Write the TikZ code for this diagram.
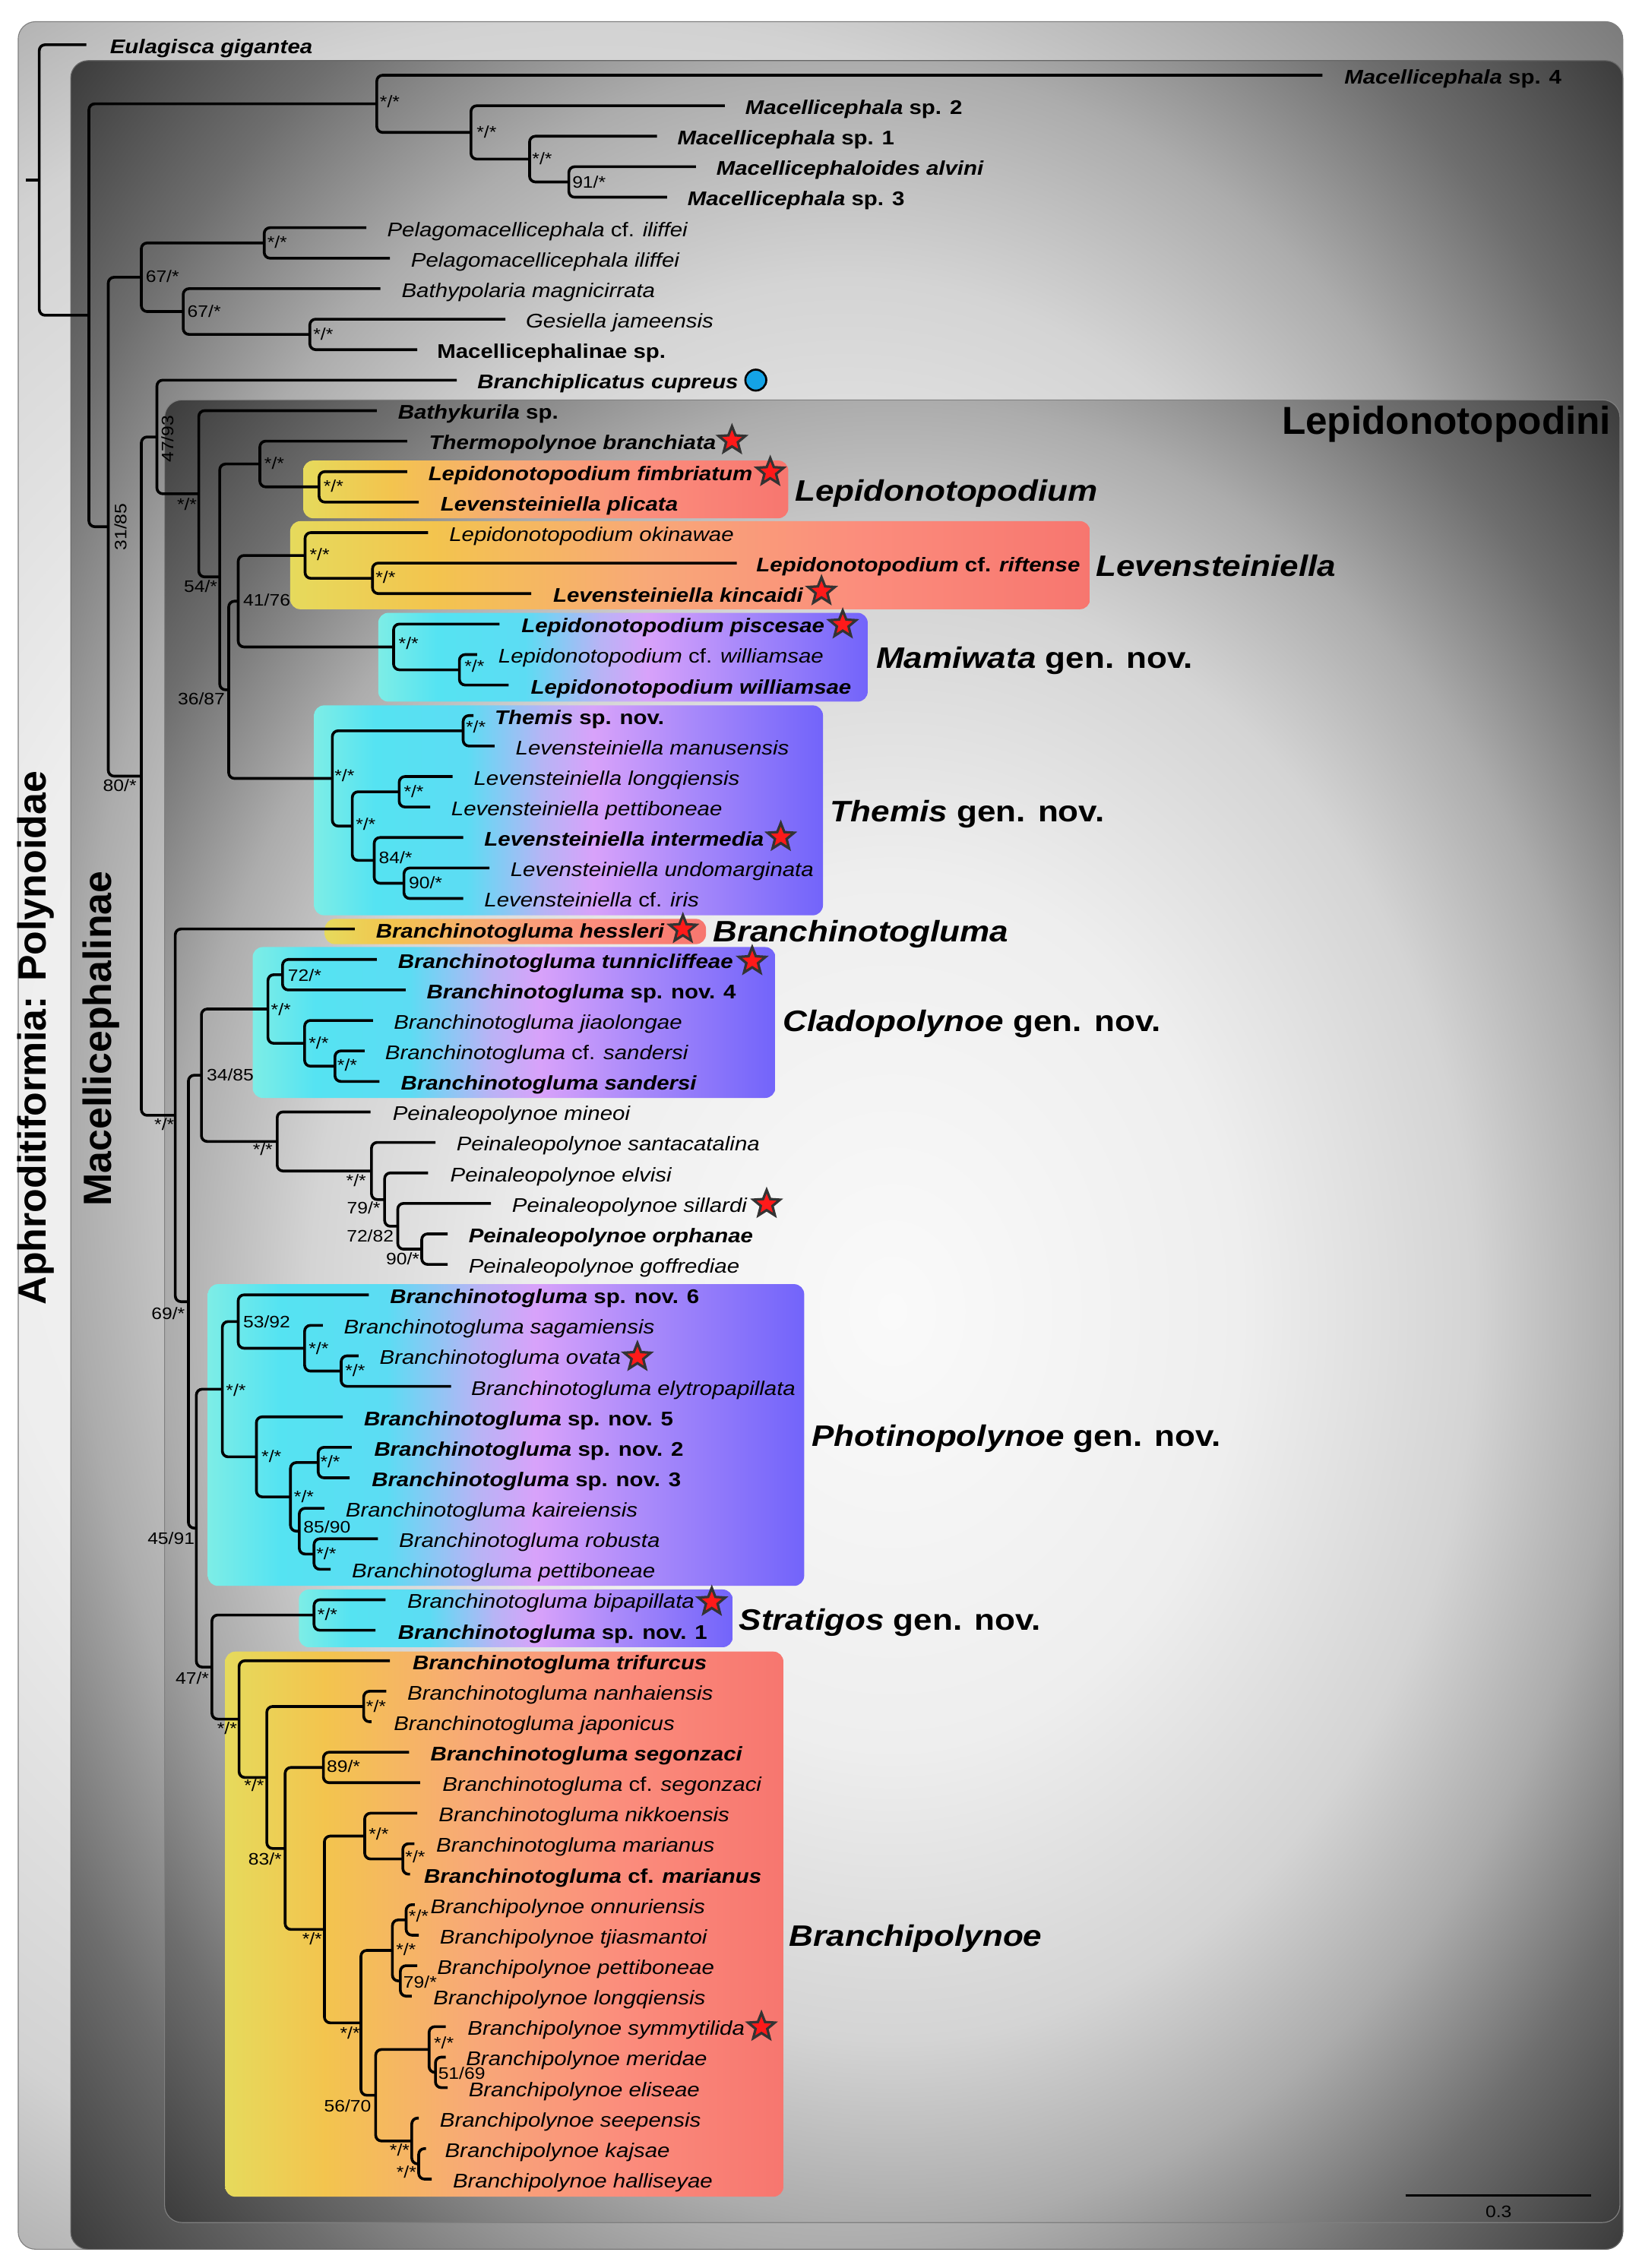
\documentclass[tikz,border=0pt]{standalone}
\usepackage{fontspec}
\setmainfont{Liberation Sans}
\newfontfamily\taxf[FakeStretch=1.13]{Liberation Sans}
\newfontfamily\plainf{Liberation Sans}
\usetikzlibrary{calc,shapes.geometric}
\definecolor{wA}{HTML}{E6DA5C}
\definecolor{wB}{HTML}{F3C44E}
\definecolor{wC}{HTML}{F8A878}
\definecolor{wD}{HTML}{FB8C7C}
\definecolor{wE}{HTML}{F7766F}
\definecolor{cA}{HTML}{7DEDE6}
\definecolor{cB}{HTML}{55E3F2}
\definecolor{cC}{HTML}{5CDCF3}
\definecolor{cD}{HTML}{B7B4F5}
\definecolor{cE}{HTML}{D8A2FA}
\definecolor{cF}{HTML}{A688FA}
\definecolor{cG}{HTML}{7264FA}
\definecolor{gA}{HTML}{FAFAFA}
\definecolor{gB}{HTML}{EEEEEE}
\definecolor{gC}{HTML}{D4D4D4}
\definecolor{gD}{HTML}{ACACAC}
\definecolor{gE}{HTML}{6E6E6E}
\definecolor{gF}{HTML}{3A3A3A}
\definecolor{hA}{HTML}{F6F6F6}
\definecolor{hB}{HTML}{EEEEEE}
\definecolor{hC}{HTML}{D2D2D2}
\definecolor{hD}{HTML}{A8A8A8}
\definecolor{hE}{HTML}{7A7A7A}
\definecolor{starred}{HTML}{FF1A1A}
\definecolor{bluedot}{HTML}{14A3E6}
\pgfdeclarehorizontalshading{warmsh}{100bp}{color(0bp)=(wA); color(25bp)=(wA); color(34bp)=(wB); color(47.5bp)=(wC); color(61bp)=(wD); color(75bp)=(wE); color(100bp)=(wE)}
\pgfdeclarehorizontalshading{coolsh}{100bp}{color(0bp)=(cA); color(25bp)=(cA); color(31bp)=(cB); color(40bp)=(cC); color(47.5bp)=(cD); color(52.5bp)=(cE); color(62.5bp)=(cF); color(75bp)=(cG); color(100bp)=(cG)}
\pgfdeclareradialshading{vignB}{\pgfpoint{0bp}{0bp}}{color(0bp)=(gA); color(12bp)=(gB); color(20bp)=(gC); color(25bp)=(gD); color(30bp)=(gE); color(35.5bp)=(gF); color(50bp)=(gF)}
\pgfdeclareradialshading{vignA}{\pgfpoint{0bp}{0bp}}{color(0bp)=(hA); color(15bp)=(hB); color(25bp)=(hC); color(30bp)=(hD); color(35.5bp)=(hE); color(50bp)=(hE)}
\newcommand\mytip[2]{\coordinate (t#1) at (#2,{31+21.12*#1});}
\newcommand\mylab[3]{\node[tl] (L#1) at (#2,{37+21.12*#1}) {#3};}
\newcommand\mynode[4]{\coordinate (#1m) at ($(#3)!0.5!(#4)$);\coordinate (#1) at (#2,0 |- #1m);\draw[branch] (#3) -| (#1) |- (#4);}
\begin{document}
\begin{tikzpicture}[x=1pt,y=-1pt,
  branch/.style={line width=1.9pt, rounded corners=4pt},
  tl/.style={anchor=base west, inner sep=0pt, font=\taxf\fontsize{13.7}{16}\selectfont\itshape},
  sup/.style={inner sep=0pt, font=\taxf\fontsize{11.5}{13}\selectfont},
  cladel/.style={anchor=base west, inner sep=0pt, font=\taxf\fontsize{20.5}{24}\selectfont\bfseries\itshape},
  redstar/.style={star, star points=5, star point ratio=2.3, minimum size=19.5pt, inner sep=0pt, fill=starred, draw=black!80, line width=1.7pt},
  warmbox/.style={shading=warmsh, rounded corners=7pt},
  coolbox/.style={shading=coolsh, rounded corners=7pt}]
\useasboundingbox (0,0) rectangle (1134.7,1571);
% ---- nested grey boxes
\begin{scope}
\clip[rounded corners=12pt] (12.6,15) rectangle (1124,1558);
\shade[shading=vignA] (-300,15) rectangle (1124,1558);
\end{scope}
\draw[rounded corners=12pt, draw=black!50, line width=0.6pt] (12.6,15) rectangle (1124,1558);
\shadedraw[shading=vignB, rounded corners=12pt, draw=black!60, line width=0.6pt] (49,42) rectangle (1124,1558);
\shadedraw[shading=vignB, rounded corners=12pt, draw=black!50, line width=0.6pt] (114,277) rectangle (1122,1539.5);
% ---- coloured clade boxes
\shade[warmbox] (210,319) rectangle (546,359);
\shade[warmbox] (201,361) rectangle (755,422);
\shade[coolbox] (262,424.5) rectangle (601,486);
\shade[coolbox] (217.5,488.6) rectangle (570,634);
\shade[warmbox] (225,636.5) rectangle (489,654);
\shade[coolbox] (175,656) rectangle (537,760.5);
\shade[coolbox] (144,889.5) rectangle (557,1098.5);
\shade[coolbox] (207,1101) rectangle (507.5,1141);
\shade[warmbox] (156,1144) rectangle (542.6,1521.6);
% ---- tips
\mytip{0}{59.8}\mytip{1}{916}\mytip{2}{502}\mytip{3}{455}\mytip{4}{482}\mytip{5}{462}
\mytip{6}{253.7}\mytip{7}{270}\mytip{8}{263.5}\mytip{9}{350}\mytip{10}{289}\mytip{11}{316.4}
\mytip{12}{261}\mytip{13}{282}\mytip{14}{282}\mytip{15}{290}\mytip{16}{296.5}\mytip{17}{510.3}
\mytip{18}{368}\mytip{19}{346}\mytip{20}{330.5}\mytip{21}{352.3}\mytip{22}{328}\mytip{23}{342.5}
\mytip{24}{313.5}\mytip{25}{298}\mytip{26}{320.8}\mytip{27}{339}\mytip{28}{320.8}\mytip{29}{245.7}
\mytip{30}{261}\mytip{31}{281}\mytip{32}{258.4}\mytip{33}{252.6}\mytip{34}{262.8}\mytip{35}{256.6}
\mytip{36}{301.6}\mytip{37}{296.5}\mytip{38}{340}\mytip{39}{310}\mytip{40}{310}\mytip{41}{255.5}
\mytip{42}{223.6}\mytip{43}{248.3}\mytip{44}{312.4}\mytip{45}{237.4}\mytip{46}{243.6}\mytip{47}{242.1}
\mytip{48}{224.7}\mytip{49}{261.7}\mytip{50}{229}\mytip{51}{267}\mytip{52}{260}\mytip{53}{270}
\mytip{54}{267.5}\mytip{55}{257.3}\mytip{56}{283.4}\mytip{57}{291}\mytip{58}{289}\mytip{59}{287}
\mytip{60}{284}\mytip{61}{287.3}\mytip{62}{290}\mytip{63}{289}\mytip{64}{285.2}\mytip{65}{308.8}
\mytip{66}{308.8}\mytip{67}{310}\mytip{68}{290}\mytip{69}{295}\mytip{70}{299}
% ---- internal nodes and branches
\mynode{m4}{394}{t4}{t5}
\mynode{m3}{366.8}{t3}{m4}
\mynode{m2}{326.2}{t2}{m3}
\mynode{m1}{261}{t1}{m2}
\mynode{p1}{183}{t6}{t7}
\mynode{p3}{214.6}{t9}{t10}
\mynode{p2}{126.9}{t8}{p3}
\mynode{p0}{97.9}{p1}{p2}
\mynode{lfim}{221}{t14}{t15}
\mynode{lthermo}{180}{t13}{lfim}
\mynode{lrif}{258}{t17}{t18}
\mynode{loki}{211.3}{t16}{lrif}
\mynode{lwil}{318.2}{t20}{t21}
\mynode{lmam}{272.6}{t19}{lwil}
\mynode{lq}{165}{loki}{lmam}
\mynode{lthemA}{320.8}{t22}{t23}
\mynode{llongq}{276.5}{t24}{t25}
\mynode{lninety}{279.8}{t27}{t28}
\mynode{leighty}{259.2}{t26}{lninety}
\mynode{lthemB}{244}{llongq}{leighty}
\mynode{lthem}{230.2}{lthemA}{lthemB}
\mynode{lr}{158.4}{lq}{lthem}
\mynode{lf}{152.2}{lthermo}{lr}
\mynode{lbk}{137.7}{t12}{lf}
\mynode{nfs}{108.7}{t11}{lbk}
\mynode{cs}{195.7}{t30}{t31}
\mynode{csa}{232}{t33}{t34}
\mynode{cj}{211}{t32}{csa}
\mynode{cr}{185.6}{cs}{cj}
\mynode{pea}{292.1}{t39}{t40}
\mynode{peb}{275.5}{t38}{pea}
\mynode{pec}{266.4}{t37}{peb}
\mynode{ped}{257.3}{t36}{pec}
\mynode{per}{192}{t35}{ped}
\mynode{ntf}{139.5}{cr}{per}
\mynode{pha}{236.3}{t43}{t44}
\mynode{phb}{211}{t42}{pha}
\mynode{phc}{165}{t41}{phb}
\mynode{phd}{220.4}{t46}{t47}
\mynode{phe}{217.5}{t49}{t50}
\mynode{phf}{207.3}{t48}{phe}
\mynode{phg}{201.2}{phd}{phf}
\mynode{phh}{177.6}{t45}{phg}
\mynode{phr}{154}{phc}{phh}
\mynode{st}{217.5}{t51}{t52}
\mynode{ba}{251.9}{t54}{t55}
\mynode{bb}{224}{t56}{t57}
\mynode{bc}{279}{t59}{t60}
\mynode{bd}{252.6}{t58}{bc}
\mynode{be}{281.3}{t61}{t62}
\mynode{bf}{277.3}{t63}{t64}
\mynode{bg}{271.8}{be}{bf}
\mynode{bh}{301.6}{t66}{t67}
\mynode{bi}{297.2}{t65}{bh}
\mynode{bj}{290}{t69}{t70}
\mynode{bk}{285.2}{t68}{bj}
\mynode{bl}{260.2}{bi}{bk}
\mynode{bm}{250}{bg}{bl}
\mynode{bn}{224.7}{bd}{bm}
\mynode{bo}{197.5}{bb}{bn}
\mynode{bp}{184.8}{ba}{bo}
\mynode{br}{165.6}{t53}{bp}
\mynode{nfsv}{146.8}{st}{br}
\mynode{nff}{136}{phr}{nfsv}
\mynode{nsn}{130.5}{ntf}{nff}
\mynode{nos}{121.4}{t29}{nsn}
\mynode{nei}{97.9}{nfs}{nos}
\mynode{nto}{75}{p0}{nei}
\mynode{nmac}{61.6}{m1}{nto}
\mynode{root}{27.2}{t0}{nmac}
\coordinate (rootbase) at (18,0 |- root);
\draw[branch] (rootbase) -- (root);
% ---- tip labels
\mylab{0}{76}{\bfseries Eulagisca gigantea}
\mylab{1}{931}{\bfseries Macellicephala \textup{sp. 4}}
\mylab{2}{516}{\bfseries Macellicephala \textup{sp. 2}}
\mylab{3}{469}{\bfseries Macellicephala \textup{sp. 1}}
\mylab{4}{496}{\bfseries Macellicephaloides alvini}
\mylab{5}{476}{\bfseries Macellicephala \textup{sp. 3}}
\mylab{6}{268}{Pelagomacellicephala \textup{cf.} iliffei}
\mylab{7}{284.5}{Pelagomacellicephala iliffei}
\mylab{8}{278}{Bathypolaria magnicirrata}
\mylab{9}{364}{Gesiella jameensis}
\mylab{10}{302.6}{\bfseries\upshape Macellicephalinae sp.}
\mylab{11}{330.5}{\bfseries Branchiplicatus cupreus}
\mylab{12}{275.5}{\bfseries Bathykurila \textup{sp.}}
\mylab{13}{297}{\bfseries Thermopolynoe branchiata}
\mylab{14}{296.5}{\bfseries Lepidonotopodium fimbriatum}
\mylab{15}{305}{\bfseries Levensteiniella plicata}
\mylab{16}{311}{Lepidonotopodium okinawae}
\mylab{17}{523.7}{\bfseries Lepidonotopodium \textup{cf.} riftense}
\mylab{18}{383}{\bfseries Levensteiniella kincaidi}
\mylab{19}{361}{\bfseries Lepidonotopodium piscesae}
\mylab{20}{345}{Lepidonotopodium \textup{cf.} williamsae}
\mylab{21}{367.5}{\bfseries Lepidonotopodium williamsae}
\mylab{22}{342.5}{\bfseries Themis \textup{sp. nov.}}
\mylab{23}{357}{Levensteiniella manusensis}
\mylab{24}{328}{Levensteiniella longqiensis}
\mylab{25}{312.4}{Levensteiniella pettiboneae}
\mylab{26}{335.3}{\bfseries Levensteiniella intermedia}
\mylab{27}{353.4}{Levensteiniella undomarginata}
\mylab{28}{335.3}{Levensteiniella \textup{cf.} iris}
\mylab{29}{260.2}{\bfseries Branchinotogluma hessleri}
\mylab{30}{275.5}{\bfseries Branchinotogluma tunnicliffeae}
\mylab{31}{295.4}{\bfseries Branchinotogluma \textup{sp. nov. 4}}
\mylab{32}{272.6}{Branchinotogluma jiaolongae}
\mylab{33}{266.6}{Branchinotogluma \textup{cf.} sandersi}
\mylab{34}{277.5}{\bfseries Branchinotogluma sandersi}
\mylab{35}{271.8}{Peinaleopolynoe mineoi}
\mylab{36}{316}{Peinaleopolynoe santacatalina}
\mylab{37}{311.7}{Peinaleopolynoe elvisi}
\mylab{38}{354.5}{Peinaleopolynoe sillardi}
\mylab{39}{324.4}{\bfseries Peinaleopolynoe orphanae}
\mylab{40}{324.4}{Peinaleopolynoe goffrediae}
\mylab{41}{270}{\bfseries Branchinotogluma \textup{sp. nov. 6}}
\mylab{42}{238}{Branchinotogluma sagamiensis}
\mylab{43}{262.8}{Branchinotogluma ovata}
\mylab{44}{326.2}{Branchinotogluma elytropapillata}
\mylab{45}{251.9}{\bfseries Branchinotogluma \textup{sp. nov. 5}}
\mylab{46}{259}{\bfseries Branchinotogluma \textup{sp. nov. 2}}
\mylab{47}{257.3}{\bfseries Branchinotogluma \textup{sp. nov. 3}}
\mylab{48}{239.2}{Branchinotogluma kaireiensis}
\mylab{49}{276.2}{Branchinotogluma robusta}
\mylab{50}{243.6}{Branchinotogluma pettiboneae}
\mylab{51}{282}{Branchinotogluma bipapillata}
\mylab{52}{275.5}{\bfseries Branchinotogluma \textup{sp. nov. 1}}
\mylab{53}{285.6}{\bfseries Branchinotogluma trifurcus}
\mylab{54}{282}{Branchinotogluma nanhaiensis}
\mylab{55}{272.6}{Branchinotogluma japonicus}
\mylab{56}{298}{\bfseries Branchinotogluma segonzaci}
\mylab{57}{306.3}{Branchinotogluma \textup{cf.} segonzaci}
\mylab{58}{303.7}{Branchinotogluma nikkoensis}
\mylab{59}{302}{Branchinotogluma marianus}
\mylab{60}{293.6}{\bfseries Branchinotogluma \textup{cf.} marianus}
\mylab{61}{298}{Branchipolynoe onnuriensis}
\mylab{62}{304.5}{Branchipolynoe tjiasmantoi}
\mylab{63}{302.6}{Branchipolynoe pettiboneae}
\mylab{64}{300}{Branchipolynoe longqiensis}
\mylab{65}{323.7}{Branchipolynoe symmytilida}
\mylab{66}{322.6}{Branchipolynoe meridae}
\mylab{67}{324.4}{Branchipolynoe eliseae}
\mylab{68}{304.5}{Branchipolynoe seepensis}
\mylab{69}{308}{Branchipolynoe kajsae}
\mylab{70}{313.5}{Branchipolynoe halliseyae}
% ---- support values
\node[sup] (bs1) at (270,70.5) {*/*};
\node[sup] (bs2) at (337,91.2) {*/*};
\node[sup] (bs3) at (375.5,109.6) {*/*};
\node[sup] (bs4) at (408,126) {91/*};
\node[sup] (bs5) at (192,167.5) {*/*};
\node[sup] (bs6) at (112.5,191.2) {67/*};
\node[sup] (bs7) at (141.4,215.8) {67/*};
\node[sup] (bs8) at (223.9,231.6) {*/*};
\node[sup, rotate=90] (bs9) at (116,304) {47/93};
\node[sup, rotate=90] (bs10) at (83.4,365) {31/85};
\node[sup] (bs11) at (129.5,349.1) {*/*};
\node[sup] (bs12) at (190,321) {*/*};
\node[sup] (bs13) at (231,336.8) {*/*};
\node[sup] (bs14) at (139,406.1) {54/*};
\node[sup] (bs15) at (184.8,415.8) {41/76};
\node[sup] (bs16) at (221.4,384.2) {*/*};
\node[sup] (bs17) at (267,400) {*/*};
\node[sup] (bs18) at (139.5,484.2) {36/87};
\node[sup] (bs19) at (283,445.6) {*/*};
\node[sup] (bs20) at (328.6,461.4) {*/*};
\node[sup] (bs21) at (329.5,503.5) {*/*};
\node[sup] (bs22) at (238.6,537) {*/*};
\node[sup] (bs23) at (253.3,571) {*/*};
\node[sup] (bs24) at (286.6,548.2) {*/*};
\node[sup] (bs25) at (274,594) {84/*};
\node[sup] (bs26) at (294.8,611.4) {90/*};
\node[sup] (bs27) at (83,543.9) {80/*};
\node[sup] (bs28) at (211,675.4) {72/*};
\node[sup] (bs29) at (194.6,699.1) {*/*};
\node[sup] (bs30) at (220.7,722.5) {*/*};
\node[sup] (bs31) at (240.5,737.7) {*/*};
\node[sup] (bs32) at (159.5,744.7) {34/85};
\node[sup] (bs33) at (113.8,778.9) {*/*};
\node[sup] (bs34) at (182,796) {*/*};
\node[sup] (bs35) at (246.7,817.5) {*/*};
\node[sup] (bs36) at (251.9,836.8) {79/*};
\node[sup] (bs37) at (256.4,856.1) {72/82};
\node[sup] (bs38) at (279,872.1) {90/*};
\node[sup] (bs39) at (116.5,909.6) {69/*};
\node[sup] (bs40) at (184.7,915.4) {53/92};
\node[sup] (bs41) at (220.7,934.2) {*/*};
\node[sup] (bs42) at (246,949.1) {*/*};
\node[sup] (bs43) at (163.4,963.2) {*/*};
\node[sup] (bs44) at (188,1008.8) {*/*};
\node[sup] (bs45) at (228.7,1012.3) {*/*};
\node[sup] (bs46) at (210.5,1036.8) {*/*};
\node[sup] (bs47) at (226.5,1057.9) {85/90};
\node[sup] (bs48) at (118.5,1065.8) {45/91};
\node[sup] (bs49) at (226,1076.3) {*/*};
\node[sup] (bs50) at (226.8,1118.4) {*/*};
\node[sup] (bs51) at (133.2,1162.3) {47/*};
\node[sup] (bs52) at (157.3,1197.4) {*/*};
\node[sup] (bs53) at (260.5,1182.1) {*/*};
\node[sup] (bs54) at (176,1236.8) {*/*};
\node[sup] (bs55) at (237.9,1223.7) {89/*};
\node[sup] (bs56) at (183.6,1287.7) {83/*};
\node[sup] (bs57) at (262.3,1270.2) {*/*};
\node[sup] (bs58) at (287.6,1286.1) {*/*};
\node[sup] (bs59) at (216.2,1343) {*/*};
\node[sup] (bs60) at (290,1327.2) {*/*};
\node[sup] (bs61) at (281.2,1350.5) {*/*};
\node[sup] (bs62) at (291,1372.8) {79/*};
\node[sup] (bs63) at (242.4,1408) {*/*};
\node[sup] (bs64) at (307.4,1415) {*/*};
\node[sup] (bs65) at (319.8,1436) {51/69};
\node[sup] (bs66) at (240.8,1458.8) {56/70};
\node[sup] (bs67) at (276.8,1489.5) {*/*};
\node[sup] (bs68) at (281.5,1504.4) {*/*};
% ---- markers
\node[circle, minimum size=14.5pt, inner sep=0pt, fill=bluedot, draw=black, line width=1.4pt] (dot) at (523.5,263.3) {};
\node[redstar] (s1) at (507,305) {};
\node[redstar] (s2) at (533.5,327) {};
\node[redstar] (s3) at (569,409.6) {};
\node[redstar] (s4) at (583.7,432.6) {};
\node[redstar] (s5) at (540.8,579.8) {};
\node[redstar] (s6) at (473,643.6) {};
\node[redstar] (s7) at (521,665.8) {};
\node[redstar] (s8) at (531,834) {};
\node[redstar] (s9) at (441.5,940) {};
\node[redstar] (s10) at (493,1109.6) {};
\node[redstar] (s11) at (527.4,1404) {};
% ---- clade labels
\node[anchor=base east, inner sep=0pt, font=\plainf\fontsize{27}{30}\selectfont\bfseries] (lepini) at (1116,301) {Lepidonotopodini};
\node[cladel] (cl1) at (550.5,347) {Lepidonotopodium};
\node[cladel] (cl2) at (759,399.1) {Levensteiniella};
\node[cladel] (cl3) at (606.7,462.8) {Mamiwata \textup{gen. nov.}};
\node[cladel] (cl4) at (575,569.3) {Themis \textup{gen. nov.}};
\node[cladel] (cl5) at (493.7,652.3) {Branchinotogluma};
\node[cladel] (cl6) at (542,714.4) {Cladopolynoe \textup{gen. nov.}};
\node[cladel] (cl7) at (562,1001.7) {Photinopolynoe \textup{gen. nov.}};
\node[cladel] (cl8) at (511.8,1129.3) {Stratigos \textup{gen. nov.}};
\node[cladel] (cl9) at (546.5,1347.9) {Branchipolynoe};
\node[rotate=90, inner sep=0pt, font=\plainf\fontsize{27.3}{30}\selectfont\bfseries] (polyn) at (25,719) {Aphroditiformia: Polynoidae};
\node[rotate=90, inner sep=0pt, font=\plainf\fontsize{27.3}{30}\selectfont\bfseries] (macel) at (70,719.5) {Macellicephalinae};
% ---- scale bar
\coordinate (sba) at (973.5,1520.7);
\coordinate (sbb) at (1102,1520.7);
\draw[line width=1.9pt] (sba) -- (sbb);
\node[sup] (sbl) at (1038,1532) {0.3};
\end{tikzpicture}
\end{document}
